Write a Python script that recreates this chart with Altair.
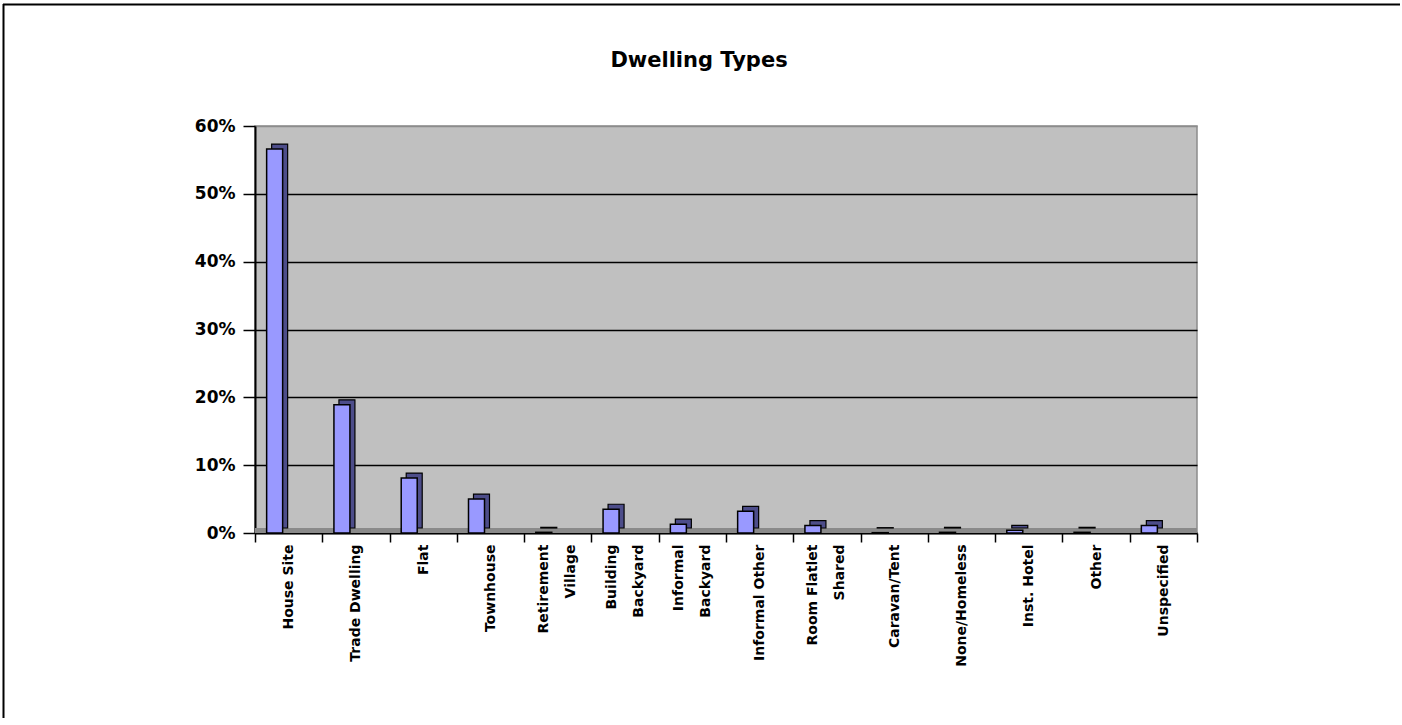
import altair as alt
import pandas as pd

categories = [
    "House Site", "Trade Dwelling", "Flat", "Townhouse", "Retirement Village",
    "Building Backyard", "Informal Backyard", "Informal Other", "Room Flatlet Shared",
    "Caravan/Tent", "None/Homeless", "Inst. Hotel", "Other", "Unspecified",
]
shares = [0.566, 0.189, 0.081, 0.050, 0.001, 0.035, 0.013, 0.032, 0.011,
          0.0005, 0.001, 0.004, 0.001, 0.011]
y_ticks = [0.0, 0.1, 0.2, 0.3, 0.4, 0.5, 0.6]
two_line = {
    "Retirement Village": ["Retirement", "Village"],
    "Building Backyard": ["Building", "Backyard"],
    "Informal Backyard": ["Informal", "Backyard"],
    "Room Flatlet Shared": ["Room Flatlet", "Shared"],
}
chart_title = "Dwelling Types"

df = pd.DataFrame({"category": categories, "share": shares})

W, H = 942, 407
PAD_L, PAD_T = 255, 126
CANVAS_W, CANVAS_H = 1400, 718

label_expr = ""
for k, v in two_line.items():
    label_expr += f"datum.label == '{k}' ? ['{v[0]}', '{v[1]}'] : "
label_expr += "datum.label"
two_line_list = "[" + ",".join(f"'{k}'" for k in two_line) + "]"

x_scale = alt.Scale(paddingInner=0, paddingOuter=0)
y_scale = alt.Scale(domain=[0, 0.6], nice=False, zero=True)

x_axis = alt.Axis(
    title=None, labelAngle=-90, labelAlign="right", labelBaseline="middle",
    labelExpr=label_expr, labelFontSize=14, labelLineHeight=27,
    labelOffset={"condition": {"test": f"indexof({two_line_list}, datum.value) >= 0",
                               "value": -14}, "value": 0},
    labelPadding=2, labelLimit=0, labelOverlap=False, labelBound=False,
    tickBand="extent", tickSize=9, tickWidth=1.5, domainWidth=2, grid=False,
)
y_axis = alt.Axis(
    title=None, values=y_ticks, format=".0%", labelFontSize=17,
    labelPadding=8, tickSize=12, tickWidth=1.5, domainWidth=2,
    grid=True, gridWidth=1.5,
    gridColor={"condition": {"test": "datum.value >= 0.6 || datum.value <= 0",
                             "value": "#8c8c8c"}, "value": "black"},
)

x_enc = alt.X("category:N", sort=categories, scale=x_scale, axis=x_axis)
y_enc = alt.Y("share:Q", scale=y_scale, axis=y_axis)

base = alt.Chart(df)

floor = alt.Chart(alt.Data(values=[{}])).mark_rect(color="#8a8a8a").encode(
    x=alt.value(0), x2=alt.value(W), y=alt.value(H - 5), y2=alt.value(H)
)

side = base.mark_bar(size=16, xOffset=-9, yOffset=-5, color="#4d4d8a",
                     stroke="black", strokeWidth=1.2).encode(x=x_enc, y=y_enc)

front = base.mark_bar(size=16, xOffset=-14, color="#9999ff",
                      stroke="black", strokeWidth=1.5).encode(x=x_enc, y=y_enc)

title_text = alt.Chart(alt.Data(values=[{}])).mark_text(
    font="DejaVu Sans", fontSize=21, fontWeight="bold", color="black",
    align="center", baseline="alphabetic",
).encode(text=alt.value(chart_title), x=alt.value(699 - PAD_L), y=alt.value(67 - PAD_T))

border_top = alt.Chart(alt.Data(values=[{}])).mark_rule(color="#000000", strokeWidth=2).encode(
    x=alt.value(3 - PAD_L), x2=alt.value(CANVAS_W - PAD_L), y=alt.value(4.5 - PAD_T),
    y2=alt.value(4.5 - PAD_T)
)
border_left = alt.Chart(alt.Data(values=[{}])).mark_rule(color="#000000", strokeWidth=2).encode(
    x=alt.value(3.5 - PAD_L), x2=alt.value(3.5 - PAD_L), y=alt.value(4 - PAD_T),
    y2=alt.value(CANVAS_H - PAD_T)
)

chart = alt.layer(floor, side, front, title_text, border_top, border_left).properties(
    width=W, height=H,
    autosize=alt.AutoSizeParams(type="none"),
    padding={"left": PAD_L, "top": PAD_T, "right": CANVAS_W - PAD_L - W,
             "bottom": CANVAS_H - PAD_T - H},
    background="white",
).configure_axis(
    labelFont="DejaVu Sans", labelFontWeight="bold", labelColor="black",
    domainColor="black", tickColor="black",
).configure_view(
    fill="#c0c0c0", stroke="#8c8c8c", strokeWidth=1.5,
)

chart.save("out.html", embed_options={"renderer": "svg", "actions": False})
